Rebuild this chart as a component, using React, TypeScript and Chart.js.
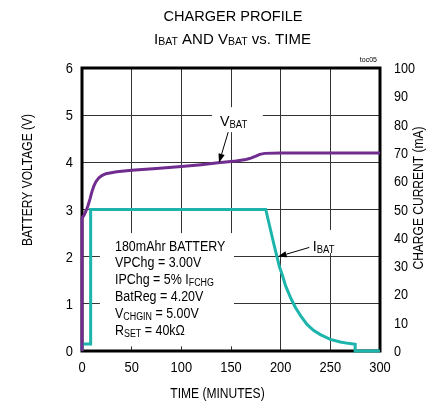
import React, { useEffect, useRef } from 'react';
import { Chart, registerables } from 'chart.js';

Chart.register(...registerables);

// ---------- data ----------
const TIME_TICKS = [0, 50, 100, 150, 200, 250, 300];
const VOLT_TICKS = [0, 1, 2, 3, 4, 5, 6];
const CURRENT_TICKS = [0, 10, 20, 30, 40, 50, 60, 70, 80, 90, 100];

const VBAT_TIME = [0, 0, 2, 4, 6, 8, 10, 12, 14, 17, 20, 24, 35, 50, 75, 100, 120, 137, 155, 165, 170, 175, 179, 184, 200, 300];
const VBAT_VOLTS = [0, 2.82, 2.88, 2.97, 3.08, 3.22, 3.38, 3.5, 3.59, 3.67, 3.72, 3.76, 3.8, 3.83, 3.87, 3.91, 3.95, 3.99, 4.03, 4.06, 4.09, 4.13, 4.17, 4.19, 4.2, 4.2];

const IBAT_TIME = [0, 0, 8.7, 8.7, 185, 188, 191, 194, 196.5, 199, 201.5, 205, 210, 215, 220, 226.5, 233, 240, 250, 260, 268, 275, 275, 300];
const IBAT_MA = [0, 2.5, 2.5, 50, 50, 45.5, 41, 36.5, 33, 29.5, 27, 23, 18.8, 15.3, 12.5, 9.4, 7.3, 5.8, 4.1, 3.2, 2.7, 2.4, 0, 0];

const TITLE_1 = 'CHARGER PROFILE';
const Y_TITLE = 'BATTERY VOLTAGE (V)';
const Y1_TITLE = 'CHARGE CURRENT (mA)';
const X_TITLE = 'TIME (MINUTES)';
const TAG = 'toc05';

type Seg = { t: string; sub?: boolean };
const TITLE_2: Seg[] = [
  { t: 'I' }, { t: 'BAT', sub: true }, { t: ' AND V' }, { t: 'BAT', sub: true }, { t: ' vs. TIME' },
];
const BOX_LINES: Seg[][] = [
  [{ t: '180mAhr BATTERY' }],
  [{ t: 'VPChg = 3.00V' }],
  [{ t: 'IPChg = 5% I' }, { t: 'FCHG', sub: true }],
  [{ t: 'BatReg = 4.20V' }],
  [{ t: 'V' }, { t: 'CHGIN', sub: true }, { t: ' = 5.00V' }],
  [{ t: 'R' }, { t: 'SET', sub: true }, { t: ' = 40k\u03A9' }],
];
const VBAT_LABEL: Seg[] = [{ t: 'V' }, { t: 'BAT', sub: true }];
const IBAT_LABEL: Seg[] = [{ t: 'I' }, { t: 'BAT', sub: true }];

const PURPLE = '#702c8e';
const TEAL = '#1db4ac';
const TEXT = '#000000';
const FONT = '"Liberation Sans", Arial, Helvetica, sans-serif';

// ---------- text helpers ----------
function setFont(ctx: CanvasRenderingContext2D, size: number) {
  ctx.font = `${size}px ${FONT}`;
}
function richWidth(ctx: CanvasRenderingContext2D, segs: Seg[], size: number, sub: number) {
  let w = 0;
  for (const s of segs) {
    setFont(ctx, s.sub ? sub : size);
    w += ctx.measureText(s.t).width;
  }
  return w;
}
function drawRich(
  ctx: CanvasRenderingContext2D,
  segs: Seg[],
  x: number,
  y: number,
  o: { size: number; sub?: number; sx?: number; align?: 'left' | 'center' | 'right'; drop?: number }
) {
  const size = o.size;
  const sub = o.sub ?? Math.round(size * 0.7);
  const sx = o.sx ?? 1;
  const drop = o.drop ?? 1.5;
  const w = richWidth(ctx, segs, size, sub) * sx;
  const x0 = o.align === 'center' ? x - w / 2 : o.align === 'right' ? x - w : x;
  ctx.save();
  ctx.translate(x0, y);
  ctx.scale(sx, 1);
  ctx.fillStyle = TEXT;
  ctx.textAlign = 'left';
  ctx.textBaseline = 'alphabetic';
  let cx = 0;
  for (const s of segs) {
    setFont(ctx, s.sub ? sub : size);
    ctx.fillText(s.t, cx, s.sub ? drop : 0);
    cx += ctx.measureText(s.t).width;
  }
  ctx.restore();
}
function drawText(ctx: CanvasRenderingContext2D, t: string, x: number, y: number, size: number, sx: number, align: 'left' | 'center' | 'right') {
  drawRich(ctx, [{ t }], x, y, { size, sx, align });
}
function drawArrow(ctx: CanvasRenderingContext2D, x1: number, y1: number, x2: number, y2: number) {
  const ang = Math.atan2(y2 - y1, x2 - x1);
  const len = 9;
  const hw = 3.2;
  const bx = x2 - len * Math.cos(ang);
  const by = y2 - len * Math.sin(ang);
  ctx.save();
  ctx.strokeStyle = '#000';
  ctx.fillStyle = '#000';
  ctx.lineWidth = 1;
  ctx.beginPath();
  ctx.moveTo(x1, y1);
  ctx.lineTo(bx, by);
  ctx.stroke();
  ctx.beginPath();
  ctx.moveTo(x2, y2);
  ctx.lineTo(bx + hw * Math.sin(ang), by - hw * Math.cos(ang));
  ctx.lineTo(bx - hw * Math.sin(ang), by + hw * Math.cos(ang));
  ctx.closePath();
  ctx.fill();
  ctx.restore();
}

// ---------- plugin ----------
const overlay = {
  id: 'overlay',
  beforeDatasetsDraw(chart: any) {
    const { ctx, chartArea: ca, scales } = chart;
    const x = scales.x, y = scales.y, y1 = scales.y1;
    const rect = (sc: any, t0: number, t1: number, v0: number, v1: number) => {
      const px0 = x.getPixelForValue(t0), px1 = x.getPixelForValue(t1);
      const py0 = sc.getPixelForValue(v1), py1 = sc.getPixelForValue(v0);
      ctx.fillRect(px0, py0, px1 - px0, py1 - py0);
    };
    ctx.save();
    ctx.fillStyle = '#ffffff';
    rect(y, 18, 153, 0.1, 2.5);
    rect(y, 131, 182, 4.64, 5.17);
    rect(y1, 229, 258, 34.6, 42.8);

    // info box text
    const bx = x.getPixelForValue(33.2);
    const by = y.getPixelForValue(2.13);
    BOX_LINES.forEach((segs, i) => {
      drawRich(ctx, segs, bx, by + i * 16.9, { size: 14, sub: 10, sx: 0.89, drop: 2 });
    });

    // frame
    ctx.strokeStyle = '#000';
    ctx.lineWidth = 3;
    ctx.strokeRect(ca.left, ca.top, ca.right - ca.left, ca.bottom - ca.top);
    ctx.restore();
  },
  afterDatasetsDraw(chart: any) {
    const { ctx, scales } = chart;
    const x = scales.x, y = scales.y, y1 = scales.y1;
    // V_BAT label + arrow
    drawRich(ctx, VBAT_LABEL, x.getPixelForValue(138.9), y.getPixelForValue(4.76), { size: 15, sub: 10, sx: 0.95, drop: 1.5 });
    drawArrow(ctx, x.getPixelForValue(147.2), y.getPixelForValue(4.64), x.getPixelForValue(137.9), y.getPixelForValue(3.99));
    // I_BAT label + arrow
    drawRich(ctx, IBAT_LABEL, x.getPixelForValue(232.3), y1.getPixelForValue(35.2), { size: 15, sub: 10, sx: 0.95, drop: 1.5 });
    drawArrow(ctx, x.getPixelForValue(228.8), y1.getPixelForValue(36.6), x.getPixelForValue(197), y1.getPixelForValue(33.3));
  },
  afterDraw(chart: any) {
    const { ctx, chartArea: ca, scales } = chart;
    const x = scales.x, y = scales.y, y1 = scales.y1;
    ctx.save();
    // titles
    drawText(ctx, TITLE_1, 233, 20.7, 15, 0.97, 'center');
    drawRich(ctx, TITLE_2, 232.5, 44, { size: 15, sub: 10.5, sx: 1.0, align: 'center', drop: 1 });
    drawText(ctx, TAG, 377, 62, 8, 0.88, 'right');

    // tick labels
    VOLT_TICKS.forEach((v) => drawText(ctx, String(v), ca.left - 9, y.getPixelForValue(v) + 5, 14, 0.92, 'right'));
    CURRENT_TICKS.forEach((v) => drawText(ctx, String(v), ca.right + 14, y1.getPixelForValue(v) + 5, 14, 0.9, 'left'));
    TIME_TICKS.forEach((v) => drawText(ctx, String(v), x.getPixelForValue(v), ca.bottom + 20.7, 14, 0.92, 'center'));

    // axis titles
    ctx.save();
    ctx.translate(27, 180);
    ctx.rotate(-Math.PI / 2);
    drawText(ctx, Y_TITLE, 0, 5, 14, 0.86, 'center');
    ctx.restore();

    ctx.save();
    ctx.translate(418, 198);
    ctx.rotate(-Math.PI / 2);
    drawText(ctx, Y1_TITLE, 0, 5, 14, 0.86, 'center');
    ctx.restore();

    drawText(ctx, X_TITLE, 217.5, 398, 14, 0.86, 'center');
    ctx.restore();
  },
};

export default function App() {
  const ref = useRef<HTMLCanvasElement | null>(null);

  useEffect(() => {
    if (!ref.current) return;
    const grid = { color: '#333333', lineWidth: 1, drawTicks: false };
    const chart = new Chart(ref.current, {
      type: 'line',
      data: {
        datasets: [
          {
            label: 'VBAT',
            data: VBAT_TIME.map((t, i) => ({ x: t, y: VBAT_VOLTS[i] })),
            borderColor: PURPLE,
            backgroundColor: PURPLE,
            borderWidth: 3,
            pointRadius: 0,
            tension: 0,
            yAxisID: 'y',
            clip: false as any,
          },
          {
            label: 'IBAT',
            data: IBAT_TIME.map((t, i) => ({ x: t, y: IBAT_MA[i] })),
            borderColor: TEAL,
            backgroundColor: TEAL,
            borderWidth: 3,
            pointRadius: 0,
            tension: 0,
            yAxisID: 'y1',
            clip: false as any,
          },
        ],
      },
      options: {
        responsive: false,
        animation: false,
        devicePixelRatio: 1,
        layout: { padding: { top: 68, left: 0, right: 0, bottom: 0 } },
        plugins: { legend: { display: false }, title: { display: false }, tooltip: { enabled: false } },
        events: [],
        scales: {
          x: {
            type: 'linear',
            min: 0,
            max: 300,
            ticks: { stepSize: 50, display: false },
            grid,
            border: { display: false },
            afterFit: (s: any) => { s.height = 56; },
          },
          y: {
            type: 'linear',
            position: 'left',
            min: 0,
            max: 6,
            ticks: { stepSize: 1, display: false },
            grid,
            border: { display: false },
            afterFit: (s: any) => { s.width = 82; },
          },
          y1: {
            type: 'linear',
            position: 'right',
            min: 0,
            max: 100,
            ticks: { stepSize: 10, display: false },
            grid: { display: false, drawTicks: false },
            border: { display: false },
            afterFit: (s: any) => { s.width = 55; },
          },
        },
      } as any,
      plugins: [overlay],
    });
    return () => chart.destroy();
  }, []);

  return (
    <div style={{ position: 'fixed', left: 0, top: 0, width: 435, height: 407, background: '#fff' }}>
      <canvas ref={ref} width={435} height={407} style={{ width: 435, height: 407, display: 'block' }} />
    </div>
  );
}
